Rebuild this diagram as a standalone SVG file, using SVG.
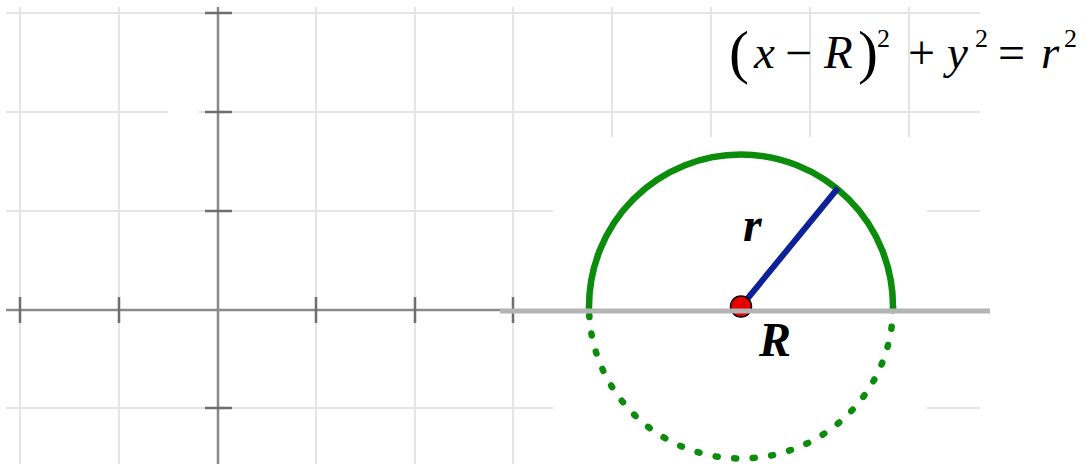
<svg xmlns="http://www.w3.org/2000/svg" width="1085" height="464" viewBox="0 0 1085 464">
<style>
.grid{stroke:#e4e4e4;stroke-width:2;fill:none}
.axis{stroke:#8a8a8a;stroke-width:2.5;fill:none}
.tick{stroke:#6e6e6e;stroke-width:2.5;fill:none}
.eq{font-family:"Liberation Serif","Times New Roman",serif;fill:#000}
.it{font-style:italic;font-size:47px}
.op{font-size:48px}
.sup{font-size:26px}
.par{font-size:60px}
.lbl{font-family:"Liberation Serif","Times New Roman",serif;font-weight:bold;font-style:italic;font-size:48px;fill:#000}
</style>
<rect x="0" y="0" width="1085" height="464" fill="#fff"/>
<g id="grid">
  <path class="grid" d="M20 7V464M119 7V464M316 7V464M415 7V464M513 7V464M612 7V137M711 7V137M810 7V137M909 7V137"/>
  <path class="grid" d="M6 13H980M6 112H168M199 112H980M6 211H553M927 211H980M6 408H553M927 408H980"/>
</g>
<g id="axes">
  <path class="axis" d="M218 7V464M6 310H502"/>
  <path class="tick" d="M205 13H232M205 112H232M205 211H232M205 408H232M20 297V323M119 297V323M316 297V323M415 297V323M513 297V323"/>
</g>
<g id="equation" class="eq">
  <text class="par" x="729" y="72">(</text>
  <text class="it" x="754" y="68">x</text>
  <text class="op" x="785" y="69">−</text>
  <text class="it" x="824" y="68">R</text>
  <text class="par" x="858" y="72">)</text>
  <text class="sup" x="877" y="47">2</text>
  <text class="op" x="908" y="69">+</text>
  <text class="it" x="947" y="68">y</text>
  <text class="sup" x="975" y="47">2</text>
  <text class="op" x="998" y="69">=</text>
  <text class="it" x="1041" y="68">r</text>
  <text class="sup" x="1064" y="47">2</text>
</g>
<g id="circle">
  <path d="M589 311V306.5A152 152 0 0 1 893 306.5V311" fill="none" stroke="#0b8c0b" stroke-width="6.5"/>
  <path d="M589 306.5A152 152 0 0 0 893 306.5" fill="none" stroke="#0b8c0b" stroke-width="6.5" stroke-linecap="round" stroke-dasharray="2 16.6" stroke-dashoffset="10"/>
</g>
<g id="radius">
  <line x1="741" y1="306.5" x2="838" y2="188" stroke="#0c2296" stroke-width="6"/>
  <text class="lbl" x="743" y="241">r</text>
</g>
<g id="center">
  <circle cx="741" cy="306.5" r="10.5" fill="#e60000" stroke="#000" stroke-width="1.5"/>
  <text class="lbl" x="759" y="356">R</text>
</g>
<g id="baseline">
  <line x1="500" y1="311" x2="990" y2="311" stroke="#b4b4b4" stroke-width="5"/>
</g>
</svg>
